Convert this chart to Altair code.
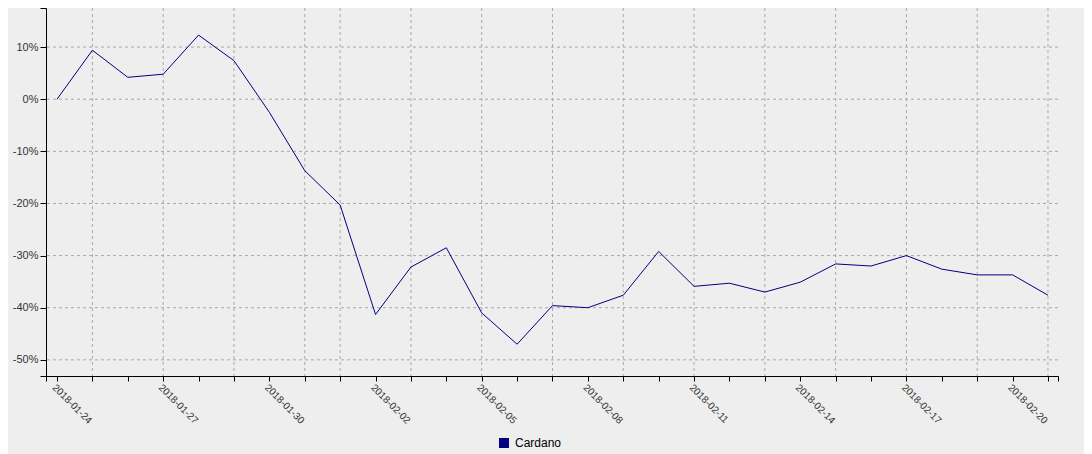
import altair as alt
import pandas as pd

# ---- data ----
dates = [
    "2018-01-24", "2018-01-25", "2018-01-26", "2018-01-27", "2018-01-28",
    "2018-01-29", "2018-01-30", "2018-01-31", "2018-02-01", "2018-02-02",
    "2018-02-03", "2018-02-04", "2018-02-05", "2018-02-06", "2018-02-07",
    "2018-02-08", "2018-02-09", "2018-02-10", "2018-02-11", "2018-02-12",
    "2018-02-13", "2018-02-14", "2018-02-15", "2018-02-16", "2018-02-17",
    "2018-02-18", "2018-02-19", "2018-02-20", "2018-02-21",
]
cardano = [
    0.0, 9.4, 4.2, 4.8, 12.3, 7.4, -2.5, -13.7, -20.3, -41.3,
    -32.2, -28.5, -41.0, -47.0, -39.6, -40.0, -37.6, -29.2, -35.9, -35.3,
    -37.0, -35.1, -31.6, -32.0, -30.0, -32.6, -33.7, -33.7, -37.6,
]
series_name = "Cardano"

# vertical grid dates (odd days of month) and horizontal grid values
grid_dates = [
    "2018-01-25", "2018-01-27", "2018-01-29", "2018-01-31", "2018-02-01",
    "2018-02-03", "2018-02-05", "2018-02-07", "2018-02-09", "2018-02-11",
    "2018-02-13", "2018-02-15", "2018-02-17", "2018-02-19", "2018-02-21",
]
grid_values = [-50, -40, -30, -20, -10, 0, 10]

DAY = 86400000
def ms(s):
    return int(pd.Timestamp(s, tz="UTC").value // 1_000_000)

t0 = ms(dates[0])
x_lo = t0 - int(0.311 * DAY)
x_hi = ms(dates[-1]) + int(0.283 * DAY)
y_lo, y_hi = -53.1, 17.5

df = pd.DataFrame({"date": dates, "value": cardano, "series": series_name})
gx = pd.DataFrame({"date": grid_dates})
gy = pd.DataFrame({"value": grid_values})

x_tick_values = [x_lo] + [ms(d) for d in dates] + [x_hi]
y_tick_values = [y_lo] + grid_values + [y_hi]

W, H = 1012, 368
BG = "#eeeeee"
FONT = "Liberation Sans"

xscale = alt.Scale(type="utc", domain=[x_lo, x_hi])
yscale = alt.Scale(domain=[y_lo, y_hi], nice=False, zero=False)

x_axis = alt.Axis(
    values=x_tick_values,
    grid=False,
    labelExpr=f"((datum.value - {t0}) % {3 * DAY}) === 0 ? utcFormat(datum.value, '%Y-%m-%d') : ''",
    labelAngle=45,
    labelAlign="left",
    labelBaseline="top",
    labelOverlap=False,
    labelFlush=False,
    labelPadding=1,
    tickSize=5,
    domainColor="#000000",
    tickColor="#000000",
    labelColor="#333333",
    labelFont=FONT,
    labelFontSize=10,
)
y_axis = alt.Axis(
    values=y_tick_values,
    grid=False,
    labelExpr="(datum.value % 10) == 0 ? datum.value + '%' : ''",
    labelOverlap=False,
    labelFlush=False,
    labelPadding=2,
    tickSize=6,
    domainColor="#000000",
    tickColor="#000000",
    labelColor="#333333",
    labelFont=FONT,
    labelFontSize=11,
)

vgrid = alt.Chart(gx).mark_rule(color="#a8a8a8", strokeDash=[3, 3], strokeWidth=1).encode(
    x=alt.X("date:T", scale=xscale, axis=x_axis, title=None)
)
hgrid = alt.Chart(gy).mark_rule(color="#a8a8a8", strokeDash=[3, 3], strokeWidth=1).encode(
    y=alt.Y("value:Q", scale=yscale, axis=y_axis, title=None)
)

line = alt.Chart(df).mark_line(strokeWidth=1, interpolate="linear").encode(
    x=alt.X("date:T", scale=xscale, title=None, axis=x_axis),
    y=alt.Y("value:Q", scale=yscale, title=None, axis=y_axis),
    color=alt.Color(
        "series:N",
        scale=alt.Scale(range=["#000080"]),
        legend=alt.Legend(
            title=None,
            orient="none",
            legendX=452,
            legendY=429,
            symbolType="square",
            symbolSize=100,
            symbolFillColor="#000080",
            symbolStrokeColor="#000080",
            symbolStrokeWidth=0,
            labelFont=FONT,
            labelFontSize=12,
            labelColor="#000000",
            labelOffset=5,
            padding=0,
        ),
    ),
)

chart = alt.layer(vgrid, hgrid, line).properties(
    width=W,
    height=H,
    background=BG,
    autosize=alt.AutoSizeParams(type="none"),
    padding={"left": 38, "top": 0, "right": 26, "bottom": 90},
).configure_view(stroke=None, fill=BG)

chart.save("out.html", embed_options={"renderer": "svg", "actions": False})
